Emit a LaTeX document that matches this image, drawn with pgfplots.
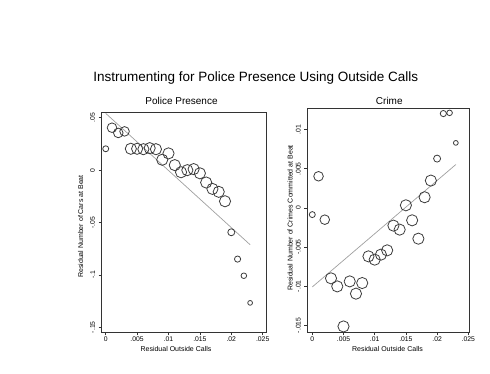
\documentclass[border=0pt]{standalone}
\usepackage{pgfplots}
\pgfplotsset{compat=1.18}
\usepackage{pgfplotstable}
\usepackage{fontspec}
\setmainfont{Liberation Sans}
\definecolor{mk}{HTML}{3C3C3C}
\definecolor{fit}{HTML}{A0A0A0}
\definecolor{frm}{HTML}{333333}

\pgfplotstableread{
x y r
0 0.0204 3
0.001 0.0405 4.8
0.002 0.0355 4.8
0.003 0.0370 4.8
0.004 0.0204 5.6
0.005 0.0204 5.6
0.006 0.0200 5.6
0.007 0.0210 5.6
0.008 0.0200 5.6
0.009 0.0099 5.6
0.010 0.0160 5.6
0.011 0.0048 5.6
0.012 -0.0020 5.6
0.013 0.0000 5.6
0.014 0.0010 5.6
0.015 -0.0030 5.6
0.016 -0.0118 5.6
0.017 -0.0179 5.6
0.018 -0.0207 5.6
0.019 -0.0297 5.6
0.020 -0.0593 3.5
0.021 -0.0849 3.1
0.022 -0.1008 2.8
0.023 -0.1267 2.4
}\police

\pgfplotstableread{
x y r
0 -0.00085 3
0.001 0.00405 4.8
0.002 -0.00150 4.8
0.003 -0.00900 5.6
0.004 -0.01003 5.6
0.005 -0.01515 5.6
0.006 -0.00939 5.6
0.007 -0.01096 5.6
0.008 -0.00960 5.6
0.009 -0.00619 5.6
0.010 -0.00661 5.6
0.011 -0.00597 5.6
0.012 -0.00542 5.6
0.013 -0.00226 5.6
0.014 -0.00277 5.6
0.015 0.00034 5.6
0.016 -0.00158 5.6
0.017 -0.00393 5.6
0.018 0.00137 5.6
0.019 0.00350 5.6
0.020 0.00631 3.5
0.021 0.01207 3.1
0.022 0.01216 2.8
0.023 0.00832 2.4
}\crime

\pgfplotsset{
  stata/.style={
    scale only axis,
    axis line style={frm, line width=0.9pt},
    tick style={frm, line width=0.7pt},
    tick align=outside,
    major tick length=3pt,
    xtick pos=bottom, ytick pos=left,
    font=\fontsize{6.8}{7.5}\selectfont,
    yticklabel style={rotate=90, anchor=south, inner sep=3.5pt},
    xticklabel style={inner sep=1.5pt},
    xtick={0,0.005,0.01,0.015,0.02,0.025},
    xticklabels={0,.005,.01,.015,.02,.025},
    scaled ticks=false,
    clip=false,
  },
  bub/.style={
    scatter, only marks, mark=o, line width=0.8pt,
    point meta=explicit,
    scatter/use mapped color={draw=mk},
    visualization depends on={\thisrow{r} \as \rad},
    scatter/@pre marker code/.append style={/tikz/mark size=\rad pt},
  },
}

\begin{document}
\begin{tikzpicture}
\path[use as bounding box, fill=white] (0,0) rectangle (490pt,373pt);

\begin{axis}[stata,
  at={(101.7pt,40.7pt)}, anchor=south west,
  width=165pt, height=220.3pt,
  xmin=-0.00064, xmax=0.02564,
  ymin=-0.1548, ymax=0.0555,
  ytick={-0.15,-0.1,-0.05,0,0.05},
  yticklabels={-.15,-.1,-.05,0,.05},
]
\addplot[fit, line width=0.7pt, no marks] coordinates {(0,0.0542) (0.023,-0.0712)};
\addplot[bub] table[x=x, y=y, meta=r] {\police};
\end{axis}

\begin{axis}[stata,
  at={(307.3pt,40.7pt)}, anchor=south west,
  width=162pt, height=223.6pt,
  xmin=-0.0008, xmax=0.02516,
  ymin=-0.0159, ymax=0.01269,
  ytick={-0.015,-0.01,-0.005,0,0.005,0.01},
  yticklabels={-.015,-.01,-.005,0,.005,.01},
]
\addplot[fit, line width=0.7pt, no marks] coordinates {(0,-0.0101) (0.023,0.00555)};
\addplot[bub] table[x=x, y=y, meta=r] {\crime};
\end{axis}

\node[anchor=base, font=\fontsize{13.5}{15}\selectfont] at (255.8pt,291.3pt) {Instrumenting for Police Presence Using Outside Calls};
\node[anchor=base, font=\fontsize{10}{12}\selectfont] at (181.5pt,269pt) {Police Presence};
\node[anchor=base, font=\fontsize{10}{12}\selectfont] at (389.3pt,269pt) {Crime};
\node[font=\fontsize{7}{8}\selectfont] at (176pt,24.5pt) {Residual Outside Calls};
\node[font=\fontsize{7}{8}\selectfont] at (387.5pt,24.5pt) {Residual Outside Calls};
\node[rotate=90, font=\fontsize{7}{8}\selectfont] at (80.7pt,146.5pt) {Residual Number of Cars at Beat};
\node[rotate=90, font=\fontsize{7}{8}\selectfont] at (290pt,155pt) {Residual Number of Crimes Committed at Beat};
\end{tikzpicture}
\end{document}
